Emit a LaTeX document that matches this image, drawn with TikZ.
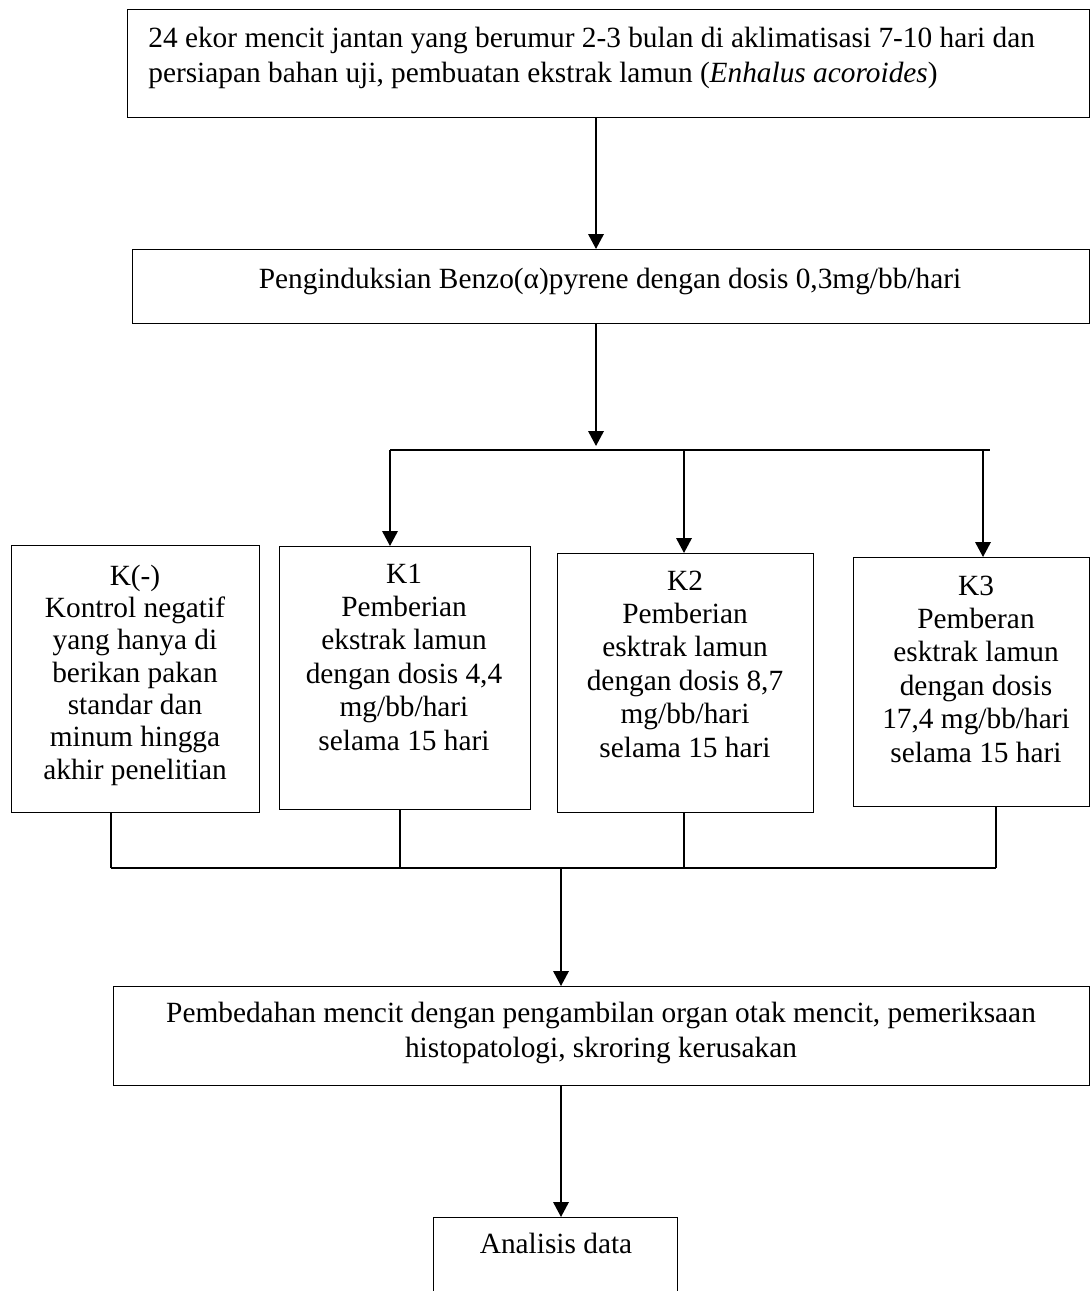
\documentclass[tikz,border=0pt]{standalone}
\usepackage{fontspec}
\setmainfont{Liberation Serif}
\usetikzlibrary{calc, arrows.meta}

\begin{document}
\begin{tikzpicture}[
    x=0.02cm, y=-0.02cm,
    box/.style={
        draw=black,
        line width=0.8pt,
        inner sep=0pt
    },
    txt/.style={
        align=center,
        inner sep=0pt
    },
    arrow/.style={
        -{Triangle[length=3mm, width=3.1mm]},
        line width=1.1pt
    },
    link/.style={
        line width=0.8pt
    },
    font=\fontsize{16.7}{19}\selectfont
]

% page
\path[fill=white, use as bounding box] (0,0) rectangle (1091,1291);
\clip (0,0) rectangle (1091,1291);

% macro: one box from its top left and bottom right corners
\newcommand{\flowbox}[5]{
  \pgfmathsetmacro{\bw}{(#4-#2)*0.02}
  \pgfmathsetmacro{\bh}{(#5-#3)*0.02}
  \node[box, anchor=north west, minimum width=\bw cm, minimum height=\bh cm] (#1) at (#2,#3) {};
}

% boxes
\flowbox{mencit}{127}{9}{1089}{117}
\flowbox{induksi}{132}{249}{1089}{323}
\flowbox{kneg}{11}{545}{259}{812}
\flowbox{k1}{279}{546}{530}{809}
\flowbox{k2}{557}{553}{813}{812}
\flowbox{k3}{853}{557}{1089}{806}
\flowbox{bedah}{113}{986}{1089}{1085}
\flowbox{analisis}{433}{1217}{677}{1340}

% texts
\node[txt, align=left, anchor=west, font=\fontsize{16.7}{19.9}\selectfont] (mencit-text) at (148,57.5)
  {24 ekor mencit jantan yang berumur 2-3 bulan di aklimatisasi 7-10 hari dan\\
   persiapan bahan uji, pembuatan ekstrak lamun (\textit{Enhalus acoroides})};
\node[txt, anchor=base] (induksi-text) at (610,288) {Penginduksian Benzo(α)pyrene dengan dosis 0,3mg/bb/hari};

\node[txt, font=\fontsize{16.7}{18.4}\selectfont] (kneg-text) at (135,675) {K(-)\\Kontrol negatif\\yang hanya di\\berikan pakan\\standar dan\\minum hingga\\akhir penelitian};
\node[txt] (k1-text) at (404,657) {K1\\Pemberian\\ekstrak lamun\\dengan dosis 4,4\\mg/bb/hari\\selama 15 hari};
\node[txt] (k2-text) at (685,664) {K2\\Pemberian\\esktrak lamun\\dengan dosis 8,7\\mg/bb/hari\\selama 15 hari};
\node[txt] (k3-text) at (976,669) {K3\\Pemberan\\esktrak lamun\\dengan dosis\\17,4 mg/bb/hari\\selama 15 hari};

\node[txt, font=\fontsize{16.7}{19.6}\selectfont] (bedah-text) at (601,1033)
  {Pembedahan mencit dengan pengambilan organ otak mencit, pemeriksaan\\histopatologi, skroring kerusakan};
\node[txt, anchor=base] (analisis-text) at (556,1253) {Analisis data};

% connectors
\coordinate (split) at (596,450);
\coordinate (join) at (561,868);

\draw[arrow] (mencit.south -| split) -- (induksi.north -| split);
\draw[arrow, shorten >=0.08cm] (induksi.south -| split) -- (split);

\foreach \k/\x in {k1/390, k2/684, k3/983}{
  \coordinate (f\k) at (\x,450);
  \draw[arrow] (f\k) -- (f\k |- \k.north);
}
\draw[link] (fk1) -- ($(fk3)+(7,0)$);

\foreach \k/\x in {kneg/111, k1/400, k2/684, k3/996}{
  \coordinate (j\k) at (\x,868);
  \draw[link] (j\k |- \k.south) -- (j\k);
}
\draw[link] (jkneg) -- (jk3);

\draw[arrow] (join) -- (join |- bedah.north);
\draw[arrow] (bedah.south -| join) -- (analisis.north -| join);

\end{tikzpicture}
\end{document}
